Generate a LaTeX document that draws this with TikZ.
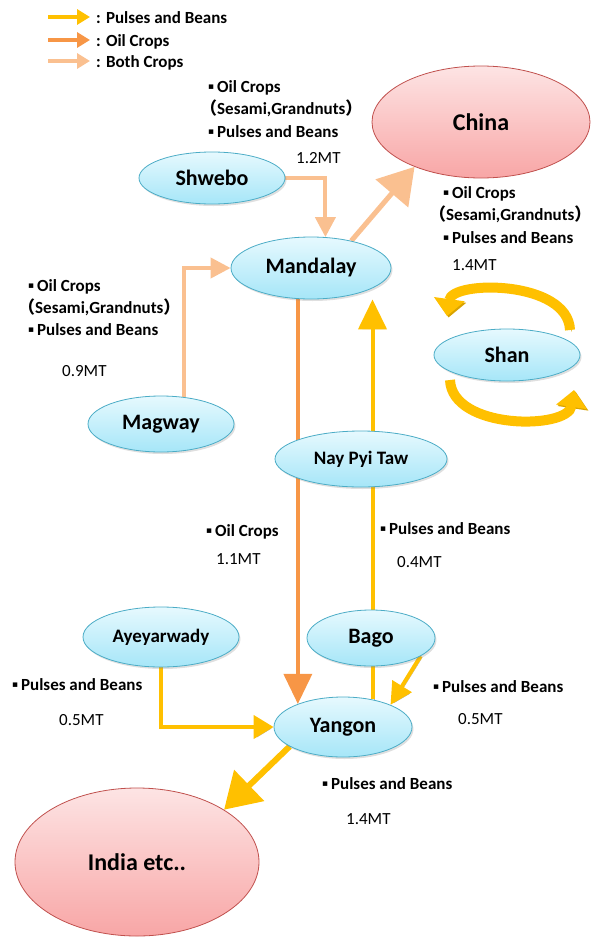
\documentclass[tikz,border=0pt]{standalone}
\usepackage{fontspec}
\setmainfont{Carlito}
\newfontfamily\cjkf{Noto Sans CJK JP}
\newfontfamily\dejavu{DejaVu Sans}
\usetikzlibrary{shapes.geometric,arrows.meta,shadows}
\pgfdeclarelayer{bg}
\pgfsetlayers{bg,main}
\definecolor{yel}{HTML}{FFC000}
\definecolor{yeld}{HTML}{D9A300}
\definecolor{org}{HTML}{F79646}
\definecolor{pch}{HTML}{FAC090}
\definecolor{cyt}{HTML}{E6F9FE}
\definecolor{cyb}{HTML}{A6E6F8}
\definecolor{cyd}{HTML}{4BACC6}
\definecolor{pkt}{HTML}{FDE4E4}
\definecolor{pkb}{HTML}{F8A6A6}
\definecolor{pkd}{HTML}{C0504D}
\newcommand{\mybul}{\raisebox{2.5pt}{\dejavu\fontsize{9}{9}\selectfont ▪}\,}
\newcommand{\fwlp}{\makebox[13pt][r]{\cjkf （}}
\newcommand{\fwrp}{\makebox[8pt][l]{\cjkf ）}}
\tikzset{
  region/.style={ellipse, draw=cyd, line width=0.8pt, top color=cyt, bottom color=cyb,
    inner sep=0pt, font=\bfseries\fontsize{22}{22}\selectfont,
    drop shadow={shadow xshift=1.5pt, shadow yshift=-2pt, opacity=0.25}},
  country/.style={ellipse, draw=pkd, line width=0.8pt, top color=pkt, bottom color=pkb,
    inner sep=0pt, font=\bfseries\fontsize{24}{24}\selectfont},
  lbl/.style={anchor=base west, inner sep=0pt, font=\bfseries\fontsize{17}{17}\selectfont},
  amt/.style={anchor=base west, inner sep=0pt, font=\fontsize{17}{17}\selectfont},
  peachA/.style={draw=pch, line width=4pt},
  orangeA/.style={draw=org, line width=3.5pt},
  yelA/.style={draw=yel, line width=4pt,
    preaction={draw=black!30, transform canvas={shift={(1.5pt,-1.5pt)}}}},
  shanA/.style={draw=yel, line width=10pt, -{Triangle[length=17pt,width=30pt]},
    preaction={draw=yeld, transform canvas={shift={(1.5pt,-1.5pt)}}}},
}
\begin{document}
\begin{tikzpicture}[x=1pt,y=-1pt]
\useasboundingbox (0,0) rectangle (590,937);

% nodes
\node[region, minimum width=146pt, minimum height=52pt] (shwebo) at (212,178) {Shwebo};
\node[country, minimum width=218pt, minimum height=112pt] (china) at (481,122) {China};
\node[region, minimum width=160pt, minimum height=62pt] (mandalay) at (311,268) {Mandalay};
\node[region, minimum width=146pt, minimum height=56pt] (magway) at (161,424) {Magway};
\node[region, minimum width=146pt, minimum height=52pt] (shan) at (507,355) {Shan};
\node[region, minimum width=172pt, minimum height=56pt, font=\bfseries\fontsize{19}{19}\selectfont] (npt) at (361,459) {Nay Pyi Taw};
\node[region, minimum width=156pt, minimum height=60pt, font=\bfseries\fontsize{19}{19}\selectfont] (ayeyarwady) at (161,637) {Ayeyarwady};
\node[region, minimum width=128pt, minimum height=56pt] (bago) at (371,638) {Bago};
\node[region, minimum width=138pt, minimum height=60pt] (yangon) at (343,727) {Yangon};
\node[country, minimum width=244pt, minimum height=148pt] (india) at (137,862) {India etc..};

% connectors
\begin{pgfonlayer}{bg}
\draw[peachA, -{Triangle[length=20pt,width=20pt]}] (shwebo.east) -| (mandalay.65);
\draw[peachA, -{Triangle[length=20pt,width=20pt]}] (magway.50) |- (mandalay.west);
\draw[peachA, line width=5pt, -{Triangle[length=35pt,width=42pt]}] (mandalay.34) -- (china.214);
\draw[orangeA, -{Triangle[length=30pt,width=28pt]}] (mandalay.-113) -- (mandalay.-113 |- yangon.153);
\draw[yelA, -{Triangle[length=30pt,width=28pt]}] (yangon.43) -- (yangon.43 |- mandalay.south);
\draw[yelA, -{Triangle[length=22pt,width=22pt]}] (bago.-20) -- (yangon.25);
\draw[yelA, -{Triangle[length=20pt,width=23pt]}] (ayeyarwady.south) |- (yangon.west);
\draw[yelA, line width=6pt, -{Triangle[length=35pt,width=42pt]}] (yangon.200) -- (india.31);
\end{pgfonlayer}

% Shan circular arrows
\draw[shanA] (570,330) .. controls (568,280) and (452,280) .. (447,316);
\draw[shanA] (450,380) .. controls (452,430) and (568,430) .. (574,390);

% legend
\coordinate (l1a) at (48,17); \coordinate (l1b) at (90,17);
\coordinate (l2a) at (48,40); \coordinate (l2b) at (90,40);
\coordinate (l3a) at (48,61); \coordinate (l3b) at (90,61);
\draw[draw=yel, line width=3.5pt, -{Triangle[length=13pt,width=15pt]}] (l1a) -- (l1b);
\draw[draw=org, line width=3.5pt, -{Triangle[length=13pt,width=15pt]}] (l2a) -- (l2b);
\draw[draw=pch, line width=3.5pt, -{Triangle[length=13pt,width=15pt]}] (l3a) -- (l3b);
\node[lbl] (t1) at (96,23) {: Pulses and Beans};
\node[lbl] (t2) at (96,46) {: Oil Crops};
\node[lbl] (t3) at (96,67) {: Both Crops};

% labels Shwebo
\node[lbl] (s1) at (208,92) {\mybul Oil Crops};
\node[lbl] (s2) at (204,114) {\fwlp Sesami,Grandnuts\fwrp};
\node[lbl] (s3) at (208,137) {\mybul Pulses and Beans};
\node[amt] (s4) at (296,163) {1.2MT};
% labels China
\node[lbl] (c1) at (443,198) {\mybul Oil Crops};
\node[lbl] (c2) at (433,220) {\fwlp Sesami,Grandnuts\fwrp};
\node[lbl] (c3) at (443,243) {\mybul Pulses and Beans};
\node[amt] (c4) at (452,270) {1.4MT};
% labels Magway
\node[lbl] (m1) at (28,291) {\mybul Oil Crops};
\node[lbl] (m2) at (22,313) {\fwlp Sesami,Grandnuts\fwrp};
\node[lbl] (m3) at (28,335) {\mybul Pulses and Beans};
\node[amt] (m4) at (62,376) {0.9MT};
% middle
\node[lbl] (o1) at (206,536) {\mybul Oil Crops};
\node[amt] (o2) at (216,564) {1.1MT};
\node[lbl] (p1) at (380,534) {\mybul Pulses and Beans};
\node[amt] (p2) at (397,567) {0.4MT};
% bottom
\node[lbl] (a1) at (12,690) {\mybul Pulses and Beans};
\node[amt] (a2) at (59,725) {0.5MT};
\node[lbl] (b1) at (433,692) {\mybul Pulses and Beans};
\node[amt] (b2) at (458,724) {0.5MT};
\node[lbl] (y1) at (322,789) {\mybul Pulses and Beans};
\node[amt] (y2) at (346,824) {1.4MT};
\end{tikzpicture}
\end{document}
